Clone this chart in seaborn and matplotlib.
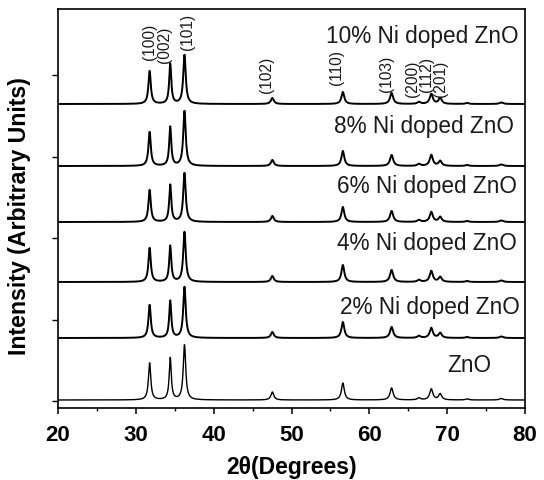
import numpy as np
import pandas as pd
import matplotlib
matplotlib.use("Agg")
import matplotlib.pyplot as plt
import seaborn as sns

# ---- data ----
samples = ["ZnO", "2% Ni doped ZnO", "4% Ni doped ZnO", "6% Ni doped ZnO",
           "8% Ni doped ZnO", "10% Ni doped ZnO"]
offsets = [8, 70, 126, 186, 242, 304]          # baseline of each pattern (a.u.)

hkl = ["(100)", "(002)", "(101)", "(102)", "(110)", "(103)", "(200)", "(112)", "(201)", "(004)", "(202)"]
peak_pos = [31.77, 34.42, 36.25, 47.54, 56.60, 62.86, 66.38, 67.96, 69.10, 72.56, 76.95]
peak_hwhm = [0.18, 0.16, 0.19, 0.22, 0.22, 0.24, 0.24, 0.24, 0.24, 0.24, 0.27]

h_zno = [37, 42, 55, 8, 17, 12, 2, 11, 6, 1, 1.5]
h_2 = [33, 37, 51, 6, 16, 11, 2, 10, 5, 1, 1.5]
h_4 = [34, 36, 50, 6, 17, 12, 2, 11, 5, 1, 1.5]
h_6 = [32, 37, 49, 6, 15, 11, 2, 10, 5, 1, 1.5]
h_8 = [34, 39, 55, 6, 15, 11, 2, 11, 5, 1, 1.5]
h_10 = [33, 40, 49, 6, 12, 11, 2, 10, 6, 1, 1.5]
heights = [h_zno, h_2, h_4, h_6, h_8, h_10]

# labels: (x, y) anchors in data units
label_x = [75.6, 79.3, 79.0, 79.0, 78.6, 79.2]
label_y = [36, 94, 158, 215, 275, 365]

hkl_label_x = [31.8, 33.7, 36.7, 46.8, 55.8, 62.2, 65.5, 67.3, 69.2]
hkl_label_y = [348, 345, 358, 315, 323, 316, 311, 316, 311]

yticks = [7, 88.5, 170, 251.5, 333]
xticks = [20, 30, 40, 50, 60, 70, 80]

# ---- build pattern table ----
two_theta = np.arange(20, 80.0001, 0.02)
rows = []
for name, off, hs in zip(samples, offsets, heights):
    y = np.full_like(two_theta, float(off))
    for p, w, h in zip(peak_pos, peak_hwhm, hs):
        y = y + h / (1 + ((two_theta - p) / w) ** 2)
    rows.append(pd.DataFrame({"two_theta": two_theta, "intensity": y, "sample": name}))
df = pd.concat(rows, ignore_index=True)

# ---- plot ----
sns.set_style("ticks")
plt.rcParams["font.family"] = ["Liberation Sans", "DejaVu Sans"]
plt.rcParams["text.color"] = "black"
plt.rcParams["axes.labelcolor"] = "black"
plt.rcParams["xtick.color"] = "black"
plt.rcParams["ytick.color"] = "black"

fig = plt.figure(figsize=(5.44, 4.80), dpi=100)
ax = fig.add_axes([58 / 544, 72 / 480, (525 - 58) / 544, (408 - 9) / 480])

for name in samples:
    sub = df[df["sample"] == name]
    sns.lineplot(data=sub, x="two_theta", y="intensity", ax=ax, color="black",
                 linewidth=1.0 if name == "ZnO" else 1.4, legend=False)

for name, x, y in zip(samples, label_x, label_y):
    ax.text(x, y, name, ha="right", va="baseline", fontsize=16.3, color="#1a1a1a")

for lab, x, y in zip(hkl[:9], hkl_label_x, hkl_label_y):
    ax.text(x, y, lab, rotation=90, ha="center", va="bottom", fontsize=11.2, color="#1a1a1a")

ax.set_xlim(20, 80)
ax.set_ylim(0, 399)
ax.set_xticks(xticks)
ax.set_xticks(np.arange(25, 80, 10), minor=True)
ax.set_yticks(yticks)
ax.set_yticklabels([])
ax.tick_params(axis="x", which="major", direction="out", length=4.5, width=1.1,
               pad=8, labelsize=16)
ax.tick_params(axis="x", which="minor", direction="out", length=2.5, width=1.0)
ax.tick_params(axis="y", direction="out", length=4.5, width=1.0)
for lbl in ax.get_xticklabels():
    lbl.set_fontweight("bold")
for s in ax.spines.values():
    s.set_visible(True)
    s.set_linewidth(1.2)
    s.set_color("black")

ax.set_xlabel("2θ(Degrees)", fontsize=16.5, fontweight="bold", labelpad=7)
ax.set_ylabel("Intensity (Arbitrary Units)", fontsize=16.7, fontweight="bold")
ax.yaxis.set_label_coords(-0.057, 0.482)

fig.savefig("out.png", dpi=100)
